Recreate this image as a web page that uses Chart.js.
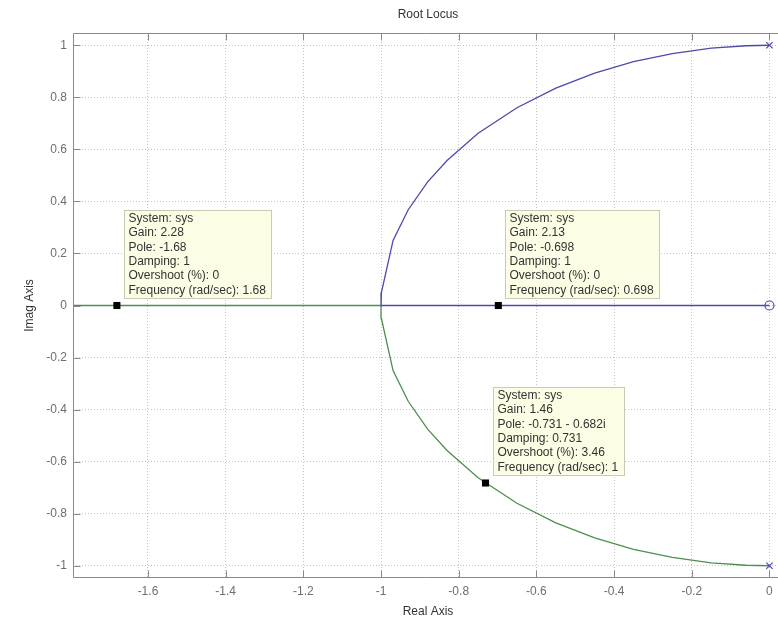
<!DOCTYPE html>
<html>
<head>
<meta charset="utf-8">
<script src="https://cdn.jsdelivr.net/npm/chart.js@4.4.1/dist/chart.umd.min.js"></script>
<style>
  html, body { margin: 0; padding: 0; background: #ffffff; }
  #wrap { width: 778px; height: 619px; }
</style>
</head>
<body>
<div id="wrap"><canvas id="c" width="778" height="619"></canvas></div>
<script>
// Axis ticks and limits
const xTicks = [-1.6, -1.4, -1.2, -1, -0.8, -0.6, -0.4, -0.2, 0];
const yTicks = [-1, -0.8, -0.6, -0.4, -0.2, 0, 0.2, 0.4, 0.6, 0.8, 1];
const xRange = [-1.793, 0.022];
const yRange = [-1.047, 1.047];

// Branch starting at the +j pole: arc down to the breakaway point, then right along the real axis to the zero
const branch1Re = [0, -0.06, -0.15, -0.25, -0.35, -0.45, -0.55, -0.65, -0.75, -0.83, -0.88, -0.93, -0.969, -0.999, -1, 0];
const branch1Im = [1, 0.998, 0.989, 0.968, 0.937, 0.893, 0.835, 0.76, 0.662, 0.557, 0.475, 0.368, 0.25, 0.05, 0, 0];

// Branch starting at the -j pole: arc up to the breakaway point, then left along the real axis
const branch2Re = [0, -0.06, -0.15, -0.25, -0.35, -0.45, -0.55, -0.65, -0.75, -0.83, -0.88, -0.93, -0.969, -0.999, -1, -2];
const branch2Im = [-1, -0.998, -0.989, -0.968, -0.937, -0.893, -0.835, -0.76, -0.662, -0.557, -0.475, -0.368, -0.25, -0.05, 0, 0];

// Open-loop poles and zero
const polesRe = [0, 0];
const polesIm = [1, -1];
const zerosRe = [0];
const zerosIm = [0];

// Data cursor readouts
const tipGain = [2.28, 2.13, 1.46];
const tipPoleRe = [-1.68, -0.698, -0.731];
const tipPoleIm = [0, 0, -0.682];
const tipDamping = [1, 1, 0.731];
const tipOvershoot = [0, 0, 3.46];
const tipFreq = [1.68, 0.698, 1];

const BLUE = '#4b4ba8';
const GREEN = '#4d8f4d';
const FONT = '"Liberation Sans", Arial, Helvetica, sans-serif';

const pts = (re, im) => re.map((v, i) => ({ x: v, y: im[i] }));

function tipLines(i) {
  const re = tipPoleRe[i], im = tipPoleIm[i];
  let pole = String(re);
  if (im !== 0) pole += (im < 0 ? ' - ' : ' + ') + Math.abs(im) + 'i';
  return [
    'System: sys',
    'Gain: ' + tipGain[i],
    'Pole: ' + pole,
    'Damping: ' + tipDamping[i],
    'Overshoot (%): ' + tipOvershoot[i],
    'Frequency (rad/sec): ' + tipFreq[i]
  ];
}

const frame = {
  id: 'frame',
  afterDraw(chart) {
    const { ctx, chartArea: a, scales: { x, y } } = chart;
    ctx.save();
    // axes frame (top, left, bottom)
    ctx.strokeStyle = '#8a8a8a';
    ctx.lineWidth = 1;
    ctx.setLineDash([]);
    const L = Math.round(a.left) + 0.5, T = Math.round(a.top) + 0.5, B = Math.round(a.bottom) - 0.5;
    ctx.beginPath();
    ctx.moveTo(a.right, T); ctx.lineTo(L, T); ctx.lineTo(L, B); ctx.lineTo(a.right, B);
    ctx.stroke();
    // inward tick marks
    const tl = 7;
    ctx.beginPath();
    xTicks.forEach(v => {
      const px = Math.round(x.getPixelForValue(v)) + 0.5;
      ctx.moveTo(px, B); ctx.lineTo(px, B - tl);
      ctx.moveTo(px, T); ctx.lineTo(px, T + tl);
    });
    yTicks.forEach(v => {
      const py = Math.round(y.getPixelForValue(v)) + 0.5;
      ctx.moveTo(L, py); ctx.lineTo(L + tl, py);
    });
    ctx.stroke();

    // titles
    ctx.fillStyle = '#333333';
    ctx.font = '12px ' + FONT;
    ctx.textAlign = 'center';
    ctx.textBaseline = 'middle';
    const cx = 428;
    ctx.fillText('Root Locus', cx, 15);
    ctx.fillText('Real Axis', cx, 612);
    ctx.save();
    ctx.translate(30, (a.top + a.bottom) / 2);
    ctx.rotate(-Math.PI / 2);
    ctx.fillText('Imag Axis', 0, 0);
    ctx.restore();

    // data cursor boxes
    ctx.textAlign = 'left';
    tipPoleRe.forEach((re, i) => {
      const px = x.getPixelForValue(re);
      const py = y.getPixelForValue(tipPoleIm[i]);
      const lines = tipLines(i);
      const lh = 14.4;
      let w = 0;
      lines.forEach(s => { w = Math.max(w, ctx.measureText(s).width); });
      const bw = Math.round(w + 10);
      const bh = Math.round(lines.length * lh + 2);
      const bx = Math.round(px + 7) + 0.5;
      const by = Math.round(py - 8 - bh) + 0.5;
      ctx.fillStyle = '#fdfde6';
      ctx.fillRect(bx, by, bw, bh);
      ctx.strokeStyle = '#c9c9b4';
      ctx.strokeRect(bx, by, bw, bh);
      ctx.fillStyle = '#333333';
      lines.forEach((s, k) => ctx.fillText(s, bx + 4, by + 8 + k * lh));
    });
    ctx.restore();
  }
};

const axisCommon = {
  type: 'linear',
  grid: { color: '#c4c4c4', lineWidth: 1, drawTicks: false },
  border: { display: false, dash: [1, 2] },
  ticks: { color: '#6e6e6e', font: { family: FONT, size: 12 }, padding: 6 }
};

new Chart(document.getElementById('c'), {
  type: 'scatter',
  data: {
    datasets: [
      {
        data: pts(tipPoleRe, tipPoleIm),
        pointStyle: 'rect', pointRadius: 5, pointHoverRadius: 5,
        backgroundColor: '#000000', borderColor: '#000000', borderWidth: 0,
        showLine: false, order: 0
      },
      {
        data: pts(polesRe, polesIm),
        pointStyle: 'crossRot', pointRadius: 4.5, pointHoverRadius: 4.5,
        borderColor: BLUE, borderWidth: 1.2, showLine: false, order: 1
      },
      {
        data: pts(zerosRe, zerosIm),
        pointStyle: 'circle', pointRadius: 4.5, pointHoverRadius: 4.5,
        borderColor: BLUE, backgroundColor: 'rgba(0,0,0,0)', borderWidth: 1.2,
        showLine: false, order: 1
      },
      {
        data: pts(branch1Re, branch1Im),
        showLine: true, borderColor: BLUE, borderWidth: 1.3, pointRadius: 0,
        tension: 0, order: 2
      },
      {
        data: pts(branch2Re, branch2Im),
        showLine: true, borderColor: GREEN, borderWidth: 1.3, pointRadius: 0,
        tension: 0, order: 2
      }
    ]
  },
  options: {
    responsive: false,
    animation: false,
    events: [],
    layout: { autoPadding: false, padding: { left: 0, right: 0, top: 33, bottom: 0 } },
    plugins: { legend: { display: false }, tooltip: { enabled: false }, title: { display: false } },
    scales: {
      x: Object.assign({}, axisCommon, {
        position: 'bottom',
        min: xRange[0], max: xRange[1],
        afterBuildTicks: s => { s.ticks = xTicks.map(v => ({ value: v })); },
        afterFit: s => { s.height = 41; s.paddingLeft = 0; s.paddingRight = 0; },
        ticks: Object.assign({}, axisCommon.ticks, {
          maxRotation: 0, autoSkip: false,
          callback: v => String(Number(v.toFixed(1)))
        })
      }),
      y: Object.assign({}, axisCommon, {
        position: 'left',
        min: yRange[0], max: yRange[1],
        afterBuildTicks: s => { s.ticks = yTicks.map(v => ({ value: v })); },
        afterFit: s => { s.width = 73; s.paddingTop = 0; s.paddingBottom = 0; },
        ticks: Object.assign({}, axisCommon.ticks, {
          autoSkip: false,
          callback: v => String(Number(v.toFixed(1)))
        })
      })
    }
  },
  plugins: [frame]
});
</script>
</body>
</html>
